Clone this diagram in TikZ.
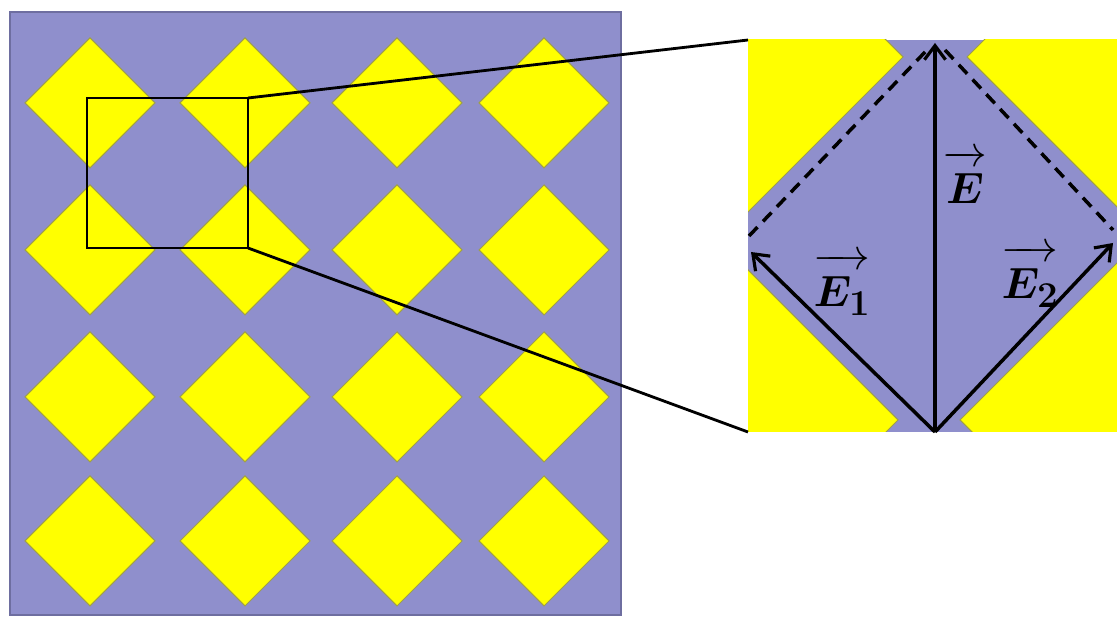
\documentclass[tikz,border=0pt]{standalone}
\usepackage{amsmath}
\usepackage{bm}
\usetikzlibrary{arrows.meta}
\definecolor{gridblue}{RGB}{143,143,204}
\definecolor{padyellow}{RGB}{255,255,0}
\definecolor{padedge}{RGB}{160,160,70}
\definecolor{frameedge}{RGB}{110,110,160}
\newcommand{\vecE}[1]{\overrightarrow{\vphantom{\big|}#1}}
\tikzset{
  pad/.style={fill=padyellow, draw=padedge, line width=0.6pt},
  vec/.style={line width=2pt, -{Straight Barb[length=8pt,width=12pt,line width=1.8pt]}},
  guide/.style={line width=2pt, dash pattern=on 7pt off 4.5pt},
  lens/.style={line width=1.6pt},
  lbl/.style={font=\fontsize{28}{32}\selectfont, inner sep=1pt}
}
\begin{document}
\begin{tikzpicture}[x=0.02cm, y=-0.02cm]
\useasboundingbox (0,0) rectangle (1117,617);
% left panel
\filldraw[fill=gridblue, draw=frameedge, line width=0.8pt] (10,12) rectangle (621,615);
\foreach \x in {90,245,397,544}
  \foreach \y in {103,250,397,541}
    \filldraw[pad, shift={(\x,\y)}] (-65,0) -- (0,-65) -- (65,0) -- (0,65) -- cycle;
\draw[lens] (87,98) rectangle (248,248);
\coordinate (boxtr) at (248,98);
\coordinate (boxbr) at (248,248);
% zoomed cell
\begin{scope}
\clip (748,40) rectangle (1117,432);
\fill[gridblue] (748,40) rectangle (1117,432);
\filldraw[pad] (748,-98) -- (903,57) -- (748,212) -- (593,57) -- cycle;
\filldraw[pad] (1117,-93) -- (967,57) -- (1117,207) -- (1267,57) -- cycle;
\filldraw[pad] (748,270) -- (898,420) -- (748,570) -- (598,420) -- cycle;
\filldraw[pad] (1117,263) -- (960,420) -- (1117,577) -- (1274,420) -- cycle;
\end{scope}
\coordinate (zoomtl) at (748,40);
\coordinate (zoombl) at (748,432);
\draw[lens] (boxtr) -- (zoomtl);
\draw[lens] (boxbr) -- (zoombl);
% vectors
\coordinate (O) at (935,432);
\coordinate (tipE) at (935,43);
\coordinate (tipA) at (751,252);
\coordinate (tipB) at (1113,243);
\draw[guide] (749,236) -- (927,50);
\draw[guide] (945,50) -- (1113,230);
\draw[vec] (O) -- (tipE);
\draw[vec] (O) -- (tipA);
\draw[vec] (O) -- (tipB);
\node[lbl] (labE) at (965,185) {$\vecE{\bm{E}}$};
\node[lbl] (labA) at (842,288) {$\vecE{\bm{E}_{\mathbf{1}}}$};
\node[lbl] (labB) at (1030,280) {$\vecE{\bm{E}_{\mathbf{2}}}$};
\end{tikzpicture}
\end{document}
